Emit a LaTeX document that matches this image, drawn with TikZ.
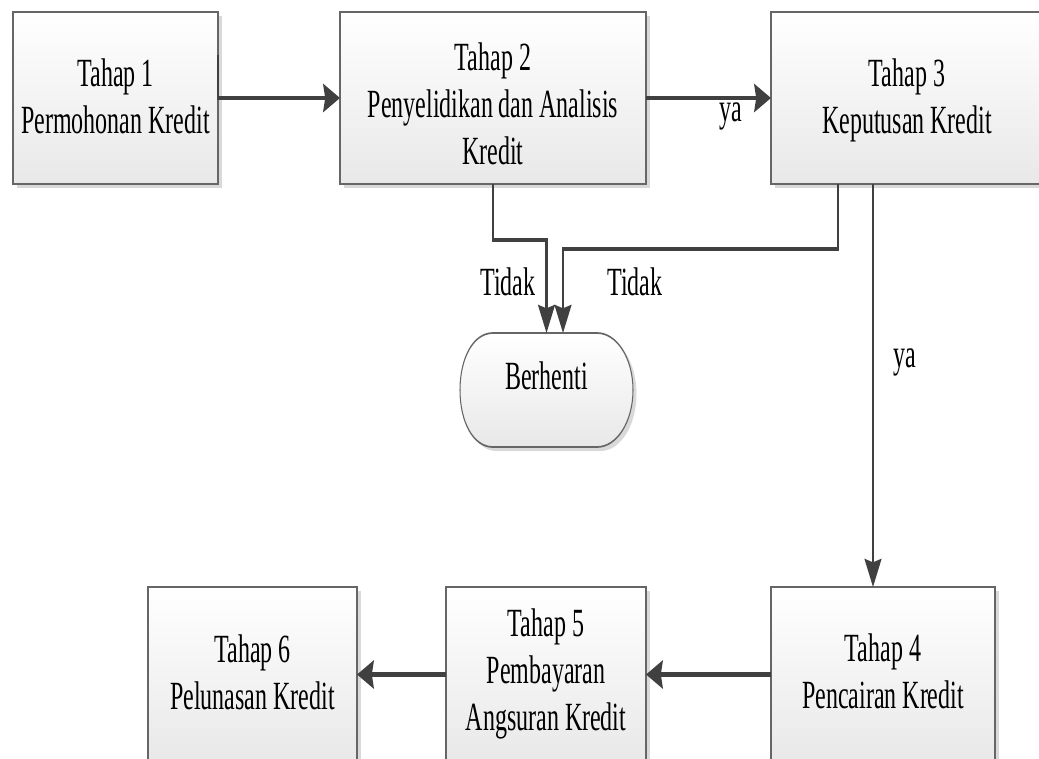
\documentclass[tikz,border=0pt]{standalone}
\usepackage{fontspec}
\setmainfont{Liberation Serif}
\usetikzlibrary{arrows.meta,shadows,fit,calc}

% centred lines of a stage, first baseline raised by #1 above the node centre
\newcommand\stagetext[2]{\raisebox{#1}[0pt][0pt]{\begin{tabular}[t]{@{}c@{}}#2\end{tabular}}}

\tikzset{
  stage/.style={draw=black!60, line width=1.3pt, top color=white, bottom color=black!9,
    general shadow={fill=black!15, shadow xshift=4.4pt, shadow yshift=-3pt},
    font=\fontsize{30}{35.25}\selectfont, inner sep=0pt, outer sep=0pt},
  flow/.style={draw=black!75, line width=3.2pt, -{Stealth[length=21pt,width=21pt,inset=2.5pt]}},
  tag/.style={font=\fontsize{30}{35.25}\selectfont, inner sep=0pt, anchor=base},
  endshape/.style={draw=black!60, line width=1.3pt, top color=white, bottom color=black!9},
}

\begin{document}
\begin{tikzpicture}[x=0.75pt,y=-0.75pt]
\useasboundingbox (0,0) rectangle (1039,758);
\fill[white] (0,0) rectangle (1039,758);
% everything is drawn in a horizontally condensed frame
\begin{scope}[transform canvas={xscale=0.6}, x=1.25pt]
  % process stages
  \node[stage, fit={(13,12)(218,184)}] (t1)
    {\stagetext{8.5pt}{Tahap 1\\Permohonan Kredit}};
  \node[stage, fit={(340,12)(646,184)}] (t2)
    {\stagetext{21pt}{Tahap 2\\Penyelidikan dan Analisis\\Kredit}};
  \node[stage, fit={(771,12)(1043,184)}] (t3)
    {\stagetext{8.5pt}{Tahap 3\\Keputusan Kredit}};
  \node[stage, fit={(771,587)(995,762)}] (t4)
    {\stagetext{9.5pt}{Tahap 4\\Pencairan Kredit}};
  \node[stage, fit={(446,587)(646,762)}] (t5)
    {\stagetext{28.5pt}{Tahap 5\\Pembayaran\\Angsuran Kredit}};
  \node[stage, fit={(148,587)(357,762)}] (t6)
    {\stagetext{9pt}{Tahap 6\\Pelunasan Kredit}};

  % terminal shape: flat top and bottom, half-elliptic sides
  \fill[black!15, shift={(3.5,4)}]
    (493,333) -- (597,333) .. controls (617,333) and (633,358.5) .. (633,390)
    .. controls (633,421.5) and (617,447) .. (597,447) -- (493,447)
    .. controls (473,447) and (460,421.5) .. (460,390)
    .. controls (460,358.5) and (473,333) .. (493,333) -- cycle;
  \path[endshape]
    (493,333) -- (597,333) .. controls (617,333) and (633,358.5) .. (633,390)
    .. controls (633,421.5) and (617,447) .. (597,447) -- (493,447)
    .. controls (473,447) and (460,421.5) .. (460,390)
    .. controls (460,358.5) and (473,333) .. (493,333) -- cycle;
  \node[inner sep=0pt, outer sep=0pt, fit={(460,333)(633,447)},
        font=\fontsize{30}{35.25}\selectfont] (stop) {Berhenti};

  % connectors
  \draw[flow] ($(t1.north east)+(0,43)$) |- (t2.west);
  \draw[flow] (t2.east) -- (t3.west);
  \draw[flow] (t2.south) -- (t2.south |- 0,240) -| (stop.north);
  \draw[flow] (t3.south -| 838,0) -- (838,249) -| (stop.north -| 563,0);
  \draw[flow] (t3.south -| 873,0) -- (t4.north -| 873,0);
  \draw[flow] (t4.west) -- (t5.east);
  \draw[flow] (t5.west) -- (t6.east);

  % connector labels
  \node[tag] (ya1) at (731,121) {ya};
  \node[tag] (no1) at (508,295) {Tidak};
  \node[tag] (no2) at (635,295) {Tidak};
  \node[tag] (ya2) at (905,367) {ya};
\end{scope}
\end{tikzpicture}
\end{document}
